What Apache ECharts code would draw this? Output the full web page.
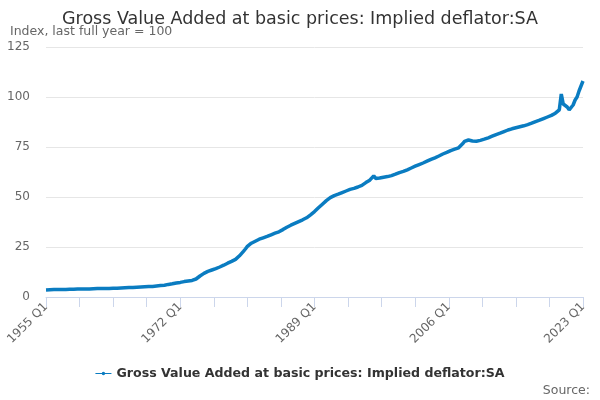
<!DOCTYPE html>
<html>
<head>
<meta charset="utf-8">
<script src="https://cdn.jsdelivr.net/npm/echarts@6/dist/echarts.min.js"></script>
<style>
  html, body { margin: 0; padding: 0; background: #fff; }
  #chart { width: 600px; height: 400px; }
</style>
</head>
<body>
<div id="chart"></div>
<script>
// Años y trimestres para las etiquetas del eje
const anios = [];
for (let a = 1955; a <= 2023; a++) anios.push(a);
const trimestres = ['Q1', 'Q2', 'Q3', 'Q4'];

// Valores trimestrales (índice, último año completo = 100)
const valores = [
  3.5, 3.5, 3.6, 3.6,      // 1955
  3.7, 3.7, 3.7, 3.8,      // 1956
  3.8, 3.8, 3.8, 3.9,      // 1957
  3.9, 3.9, 3.9, 3.9,      // 1958
  4.0, 4.0, 4.0, 4.0,      // 1959
  4.0, 4.0, 4.0, 4.1,      // 1960
  4.1, 4.1, 4.2, 4.2,      // 1961
  4.2, 4.3, 4.3, 4.3,      // 1962
  4.3, 4.3, 4.4, 4.4,      // 1963
  4.4, 4.5, 4.5, 4.6,      // 1964
  4.6, 4.7, 4.7, 4.8,      // 1965
  4.8, 4.9, 4.9, 5.0,      // 1966
  5.0, 5.0, 5.1, 5.1,      // 1967
  5.2, 5.3, 5.3, 5.4,      // 1968
  5.5, 5.6, 5.7, 5.8,      // 1969
  5.9, 6.1, 6.3, 6.5,      // 1970
  6.6, 6.8, 7.0, 7.1,      // 1971
  7.3, 7.5, 7.7, 7.9,      // 1972
  8.0, 8.1, 8.3, 8.6,      // 1973
  9.0, 9.7, 10.5, 11.2,    // 1974
  11.8, 12.3, 12.8, 13.1,  // 1975
  13.5, 13.9, 14.2, 14.6,  // 1976
  15.0, 15.5, 15.9, 16.4,  // 1977
  16.9, 17.3, 17.8, 18.3,  // 1978
  18.8, 19.6, 20.6, 21.7,  // 1979
  22.8, 24.0, 25.3, 26.3,  // 1980
  26.9, 27.4, 27.9, 28.4,  // 1981
  28.9, 29.3, 29.6, 30.0,  // 1982
  30.3, 30.7, 31.1, 31.5,  // 1983
  31.9, 32.2, 32.6, 33.0,  // 1984
  33.7, 34.3, 34.9, 35.5,  // 1985
  35.9, 36.3, 36.8, 37.3,  // 1986
  37.7, 38.2, 38.6, 39.0,  // 1987
  39.6, 40.3, 41.1, 41.9,  // 1988
  42.7, 43.6, 44.6, 45.5,  // 1989
  46.4, 47.3, 48.2, 49.0,  // 1990
  49.7, 50.2, 50.7, 51.1,  // 1991
  51.4, 51.8, 52.2, 52.5,  // 1992
  53.0, 53.4, 53.8, 54.1,  // 1993
  54.3, 54.6, 55.0, 55.3,  // 1994
  55.8, 56.4, 57.2, 57.8,  // 1995
  58.4, 59.2, 60.6, 59.3,  // 1996
  59.2, 59.5, 59.7, 59.9,  // 1997
  60.0, 60.2, 60.4, 60.7,  // 1998
  61.0, 61.4, 61.8, 62.2,  // 1999
  62.5, 62.8, 63.2, 63.6,  // 2000
  64.0, 64.5, 65.0, 65.4,  // 2001
  65.8, 66.2, 66.6, 67.0,  // 2002
  67.4, 67.9, 68.3, 68.8,  // 2003
  69.2, 69.6, 70.0, 70.5,  // 2004
  71.0, 71.5, 71.9, 72.3,  // 2005
  72.8, 73.2, 73.5, 73.9,  // 2006
  74.3, 74.6, 75.3, 76.6,  // 2007
  77.8, 78.3, 78.5, 78.4,  // 2008
  78.0, 77.7, 77.9, 78.1,  // 2009
  78.3, 78.6, 78.9, 79.2,  // 2010
  79.6, 80.0, 80.4, 80.8,  // 2011
  81.2, 81.5, 81.9, 82.3,  // 2012
  82.7, 83.1, 83.5, 83.8,  // 2013
  84.1, 84.3, 84.6, 84.9,  // 2014
  85.1, 85.4, 85.6, 85.9,  // 2015
  86.2, 86.5, 86.9, 87.3,  // 2016
  87.7, 88.0, 88.4, 88.8,  // 2017
  89.2, 89.6, 90.0, 90.4,  // 2018
  90.8, 91.3, 91.9, 92.7,  // 2019
  93.6, 101.5, 96.5, 96.8, // 2020
  95.0, 93.6, 94.5, 96.0,  // 2021
  98.5, 100.0, 103.0, 105.5, // 2022
  108.0                    // 2023
];

// Etiquetas tipo "1955 Q1"
const categorias = [];
anios.forEach(function(a) {
  trimestres.forEach(function(t) {
    if (categorias.length < valores.length) categorias.push(a + ' ' + t);
  });
});

const fuente = 'DejaVu Sans';
const colorLinea = '#0a7cc1';
const chart = echarts.init(document.getElementById('chart'), null, { renderer: 'canvas' });

const option = {
  animation: false,
  textStyle: { fontFamily: fuente },
  title: [
    {
      text: 'Gross Value Added at basic prices: Implied deflator:SA',
      left: 'center',
      top: 5,
      textStyle: { fontFamily: fuente, fontSize: 17.5, fontWeight: 'normal', color: '#333333' }
    },
    {
      text: 'Index, last full year = 100',
      left: 5,
      top: 20,
      textStyle: { fontFamily: fuente, fontSize: 12.5, fontWeight: 'normal', color: '#666666' }
    }
  ],
  graphic: [
    {
      type: 'text',
      right: 10,
      bottom: 3,
      style: { text: 'Source:', fill: '#666666', font: '12.5px "DejaVu Sans"' }
    }
  ],
  legend: {
    bottom: 15,
    left: 'center',
    itemWidth: 16,
    itemHeight: 6,
    itemGap: 6,
    icon: 'path://M0,2.5 L16,2.5 L16,3.5 L0,3.5 Z M8,1.3 A1.7,1.7 0 1 1 8,4.7 A1.7,1.7 0 1 1 8,1.3 Z',
    textStyle: { fontFamily: fuente, fontSize: 12.6, fontWeight: 'bold', color: '#333333' }
  },
  grid: { left: 46, right: 17, top: 47, bottom: 103 },
  xAxis: {
    type: 'category',
    data: categorias,
    boundaryGap: false,
    axisLine: { lineStyle: { color: '#ccd6eb' } },
    axisTick: { interval: 16, length: 10, lineStyle: { color: '#ccd6eb' } },
    axisLabel: {
      interval: 67,
      rotate: 45,
      color: '#666666',
      fontSize: 12,
      margin: 8,
      fontFamily: fuente
    }
  },
  yAxis: {
    type: 'value',
    min: 0,
    max: 125,
    interval: 25,
    axisLine: { show: false },
    axisTick: { show: false },
    splitLine: { lineStyle: { color: '#e6e6e6' } },
    axisLabel: { color: '#666666', fontSize: 12, margin: 16, fontFamily: fuente }
  },
  series: [
    {
      name: 'Gross Value Added at basic prices: Implied deflator:SA',
      type: 'line',
      data: valores,
      symbol: 'circle',
      symbolSize: 4,
      showSymbol: false,
      lineStyle: { color: colorLinea, width: 3.5 },
      itemStyle: { color: colorLinea }
    }
  ]
};

chart.setOption(option);
</script>
</body>
</html>
